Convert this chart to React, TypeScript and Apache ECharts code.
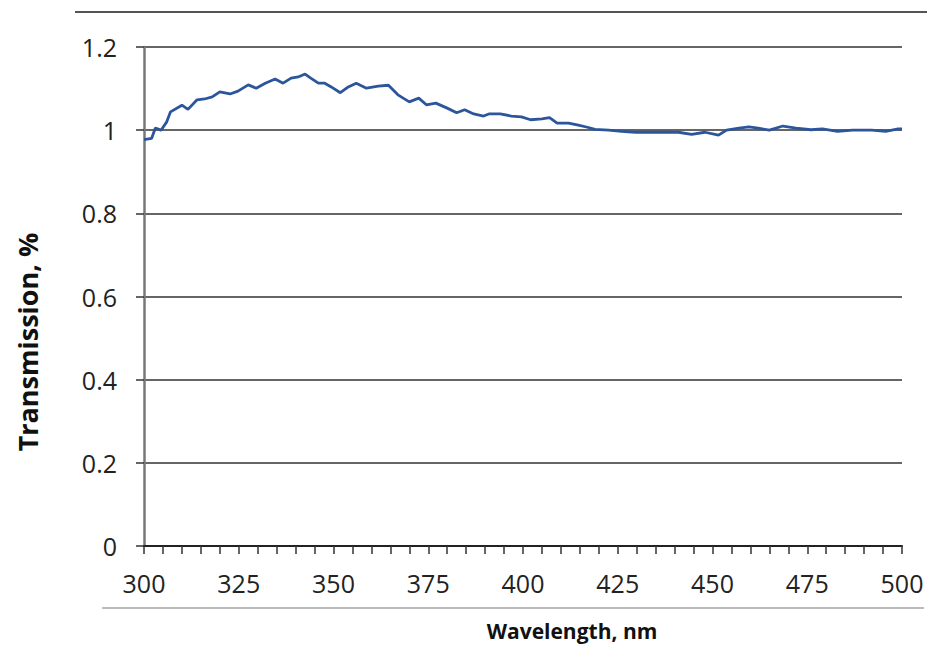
import React, { useEffect, useRef } from "react";
import * as echarts from "echarts";

const wavelengths = [
  300, 302, 303, 304.5, 306, 307, 310, 311.6, 314, 316, 318, 320, 322.7, 324.8, 327.5, 329.6,
  332, 334.6, 336.7, 338.8, 340.7, 342.5, 344, 346, 347.7, 349.4, 351.8, 353.9, 356, 358.7,
  361.8, 364.5, 367, 370, 372.5, 374.5, 377, 380, 382.5, 384.6, 387, 389.6, 391, 394, 396.9,
  399.6, 402, 405, 407, 409, 412, 414.6, 417, 419, 422.6, 426, 429.7, 433, 437, 441, 444.5,
  448, 451.6, 453.7, 457, 459.6, 462, 465, 468.6, 472, 476, 479, 483, 487, 492, 495.7, 499, 500,
];
const transmission = [
  0.977, 0.98, 1.005, 1.0, 1.02, 1.044, 1.06, 1.05, 1.073, 1.075, 1.08, 1.092, 1.087, 1.094,
  1.109, 1.101, 1.113, 1.123, 1.113, 1.125, 1.128, 1.135, 1.125, 1.113, 1.113, 1.104, 1.09,
  1.104, 1.113, 1.101, 1.106, 1.108, 1.085, 1.068, 1.077, 1.061, 1.065, 1.053, 1.042, 1.049,
  1.039, 1.034, 1.039, 1.039, 1.034, 1.032, 1.025, 1.027, 1.03, 1.017, 1.017, 1.012, 1.007,
  1.002, 1.0, 0.997, 0.995, 0.995, 0.995, 0.995, 0.99, 0.995, 0.988, 1.0, 1.005, 1.008, 1.005,
  1.0, 1.01, 1.005, 1.001, 1.003, 0.997, 1.0, 1.0, 0.997, 1.003, 1.003,
];
const xTitle = "Wavelength, nm";
const yTitle = "Transmission, %";

export default function App() {
  const ref = useRef<HTMLDivElement>(null);
  useEffect(() => {
    if (!ref.current) return;
    const chart = echarts.init(ref.current, null, { renderer: "svg" });
    const font = "'Open Sans', sans-serif";
    chart.setOption({
      animation: false,
      backgroundColor: "#ffffff",
      grid: { left: 144, right: 25, top: 47, bottom: 101, containLabel: false },
      xAxis: {
        type: "value",
        min: 300,
        max: 500,
        interval: 5,
        axisLine: { show: true, lineStyle: { color: "#222", width: 2 } },
        axisTick: { show: true, length: 8, lineStyle: { color: "#333", width: 1.5 } },
        axisLabel: {
          margin: 24,
          fontFamily: font,
          fontSize: 25,
          color: "#222",
          formatter: (v: number) => (v % 25 === 0 ? String(v) : ""),
        },
        splitLine: { show: false },
      },
      yAxis: {
        type: "value",
        min: 0,
        max: 1.2,
        interval: 0.2,
        axisLine: { show: true, lineStyle: { color: "#777", width: 2.5 } },
        axisTick: { show: true, length: 8, lineStyle: { color: "#333", width: 1.5 } },
        axisLabel: {
          margin: 27,
          fontFamily: font,
          fontSize: 25,
          color: "#222",
          formatter: (v: number) => String(Math.round(v * 10) / 10),
        },
        splitLine: { show: true, lineStyle: { color: "#333", width: 1.5 } },
      },
      series: [
        {
          type: "line",
          data: wavelengths.map((w, i) => [w, transmission[i]]),
          showSymbol: false,
          smooth: false,
          lineStyle: { color: "#2b569b", width: 2.8 },
        },
      ],
      graphic: [
        {
          type: "line",
          shape: { x1: 75, y1: 12, x2: 927, y2: 12 },
          style: { stroke: "#555", lineWidth: 2 },
        },
        {
          type: "line",
          shape: { x1: 102, y1: 608, x2: 924, y2: 608 },
          style: { stroke: "#bbb", lineWidth: 2 },
        },
        {
          type: "text",
          x: 572,
          y: 631,
          style: {
            text: xTitle,
            fontFamily: font,
            fontWeight: "bold",
            fontSize: 21,
            fill: "#111",
            align: "center",
            verticalAlign: "middle",
          },
        },
        {
          type: "text",
          x: 27,
          y: 342,
          rotation: Math.PI / 2,
          style: {
            text: yTitle,
            fontFamily: font,
            fontWeight: "bold",
            fontSize: 27,
            fill: "#111",
            align: "center",
            verticalAlign: "middle",
          },
        },
      ],
    });
    return () => chart.dispose();
  }, []);
  return (
    <div
      ref={ref}
      style={{ position: "fixed", left: 0, top: 0, width: 927, height: 647 }}
    />
  );
}
